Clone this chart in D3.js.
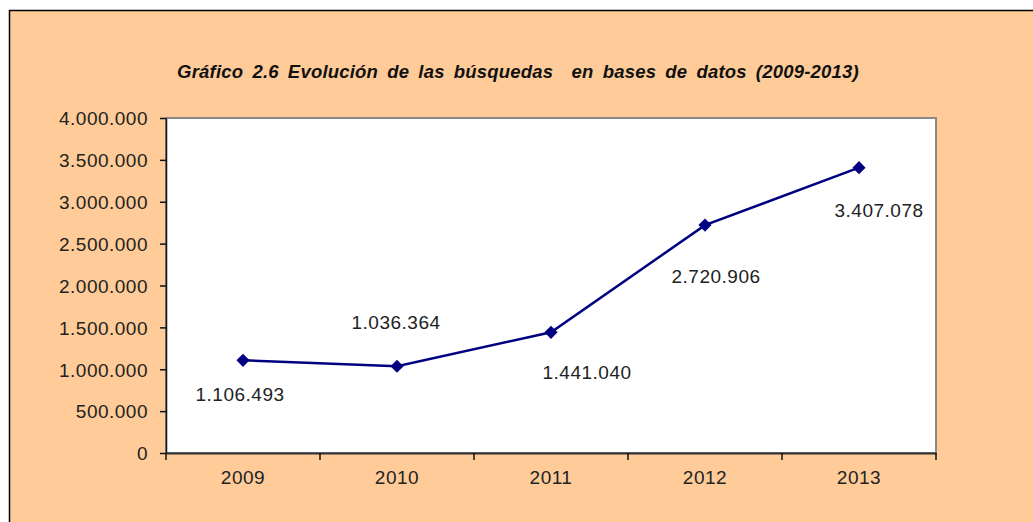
<!DOCTYPE html>
<html>
<head>
<meta charset="utf-8">
<style>
  body { margin: 0; background: #fff; }
  svg { display: block; }
  .tick text { font-family: "Liberation Sans", Arial, sans-serif; font-size: 19px; fill: #222; letter-spacing: 0.5px; }
  .val { font-family: "Liberation Sans", Arial, sans-serif; font-size: 19px; fill: #222; letter-spacing: 0.5px; }
  .title { font-family: "Liberation Sans", Arial, sans-serif; font-size: 18.5px; font-weight: bold; font-style: italic; fill: #111; letter-spacing: 0.2px; word-spacing: 3.8px; white-space: pre; }
</style>
</head>
<body>
<svg width="1033" height="522"></svg>
<script src="https://d3js.org/d3.v7.min.js"></script>
<script>
  // data
  let years = ["2009", "2010", "2011", "2012", "2013"]
  let searches = [1106493, 1036364, 1441040, 2720906, 3407078]
  let yTicks = [0, 500000, 1000000, 1500000, 2000000, 2500000, 3000000, 3500000, 4000000]

  // where each value label sits relative to its point (labels were moved by hand in the original)
  let labelShift = [[-3, 41], [-1, -37], [36, 47], [11, 58], [20, 49]]

  let svg = d3.select("svg")
  let margin = {top: 118, right: 97, bottom: 69, left: 166}
  let width = 1033, height = 522

  // peach frame
  svg.append("rect")
    .attr("x", 9.5).attr("y", 10.5)
    .attr("width", 1040).attr("height", 530)
    .attr("fill", "#ffcc99")
    .attr("stroke", "#000").attr("stroke-width", 1.5)

  svg.append("text")
    .attr("class", "title")
    .attr("x", 518).attr("y", 78)
    .attr("text-anchor", "middle")
    .text("Gráfico 2.6 Evolución de las búsquedas  en bases de datos (2009-2013)")

  let x = d3.scaleBand()
    .domain(years)
    .range([margin.left, width - margin.right])

  let y = d3.scaleLinear()
    .domain([0, 4000000])
    .range([height - margin.bottom, margin.top])

  // plot area
  svg.append("rect")
    .attr("x", margin.left).attr("y", margin.top)
    .attr("width", x.range()[1] - margin.left)
    .attr("height", y(0) - margin.top)
    .attr("fill", "#fff")
    .attr("stroke", "#888").attr("stroke-width", 2)

  let fmt = d => d3.format(",")(d).replace(/,/g, ".")

  svg.append("g")
    .attr("transform", `translate(${margin.left},0)`)
    .call(d3.axisLeft(y).tickValues(yTicks).tickFormat(fmt).tickSize(6).tickPadding(12).tickSizeOuter(0))
    .call(g => g.selectAll("line, path").attr("stroke", "#111").attr("stroke-width", 1.5))
    .call(g => g.selectAll("text").attr("dy", "0.36em"))

  let xAxis = svg.append("g")
    .attr("transform", `translate(0,${y(0)})`)
    .call(d3.axisBottom(x).tickSize(0).tickPadding(18))
  xAxis.select(".domain").attr("stroke", "#333").attr("stroke-width", 2)

  // category boundary ticks
  let edges = years.map(d => x(d)).concat([x.range()[1]])
  svg.append("g").selectAll("line")
    .data(edges)
    .join("line")
    .attr("x1", d => d).attr("x2", d => d)
    .attr("y1", y(0)).attr("y2", y(0) + 7)
    .attr("stroke", "#111").attr("stroke-width", 1.5)

  let cx = d => x(d) + x.bandwidth() / 2

  let line = d3.line()
    .x((d, i) => cx(years[i]))
    .y(d => y(d))

  svg.append("path")
    .datum(searches)
    .attr("fill", "none")
    .attr("stroke", "#000080")
    .attr("stroke-width", 2.5)
    .attr("d", line)

  svg.append("g").selectAll("path")
    .data(searches)
    .join("path")
    .attr("transform", (d, i) => `translate(${cx(years[i])},${y(d)})`)
    .attr("d", d3.symbol(d3.symbolDiamond2, 110))
    .attr("fill", "#000080")

  svg.append("g").selectAll("text")
    .data(searches)
    .join("text")
    .attr("class", "val")
    .attr("text-anchor", "middle")
    .attr("x", (d, i) => cx(years[i]) + labelShift[i][0])
    .attr("y", (d, i) => y(d) + labelShift[i][1])
    .text(fmt)
</script>
</body>
</html>
